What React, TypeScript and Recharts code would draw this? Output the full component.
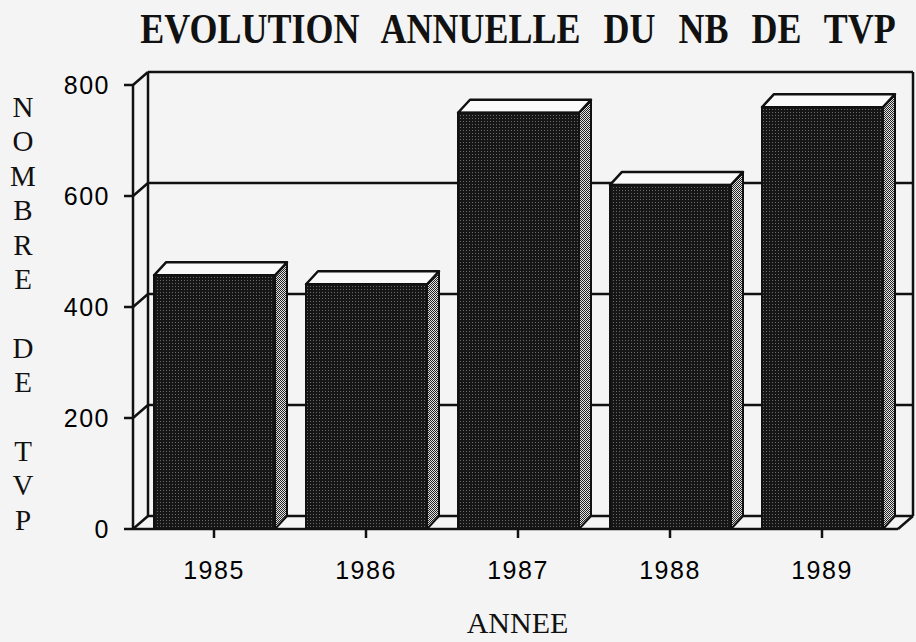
import React from 'react';
import { BarChart, Bar, XAxis, YAxis, CartesianGrid } from 'recharts';

const years = ['1985', '1986', '1987', '1988', '1989'];
const tvpCounts = [457, 441, 750, 620, 760];
const yTicks = [0, 200, 400, 600, 800];
const title = 'EVOLUTION ANNUELLE DU NB DE TVP';
const yLabel = 'NOMBRE DE TVP';
const xLabel = 'ANNEE';

const data = years.map((year, i) => ({ year, tvp: tvpCounts[i] }));

// depth of the 3D effect
const WALL_DX = 15;
const WALL_DY = -13;
const BAR_DX = 12;
const BAR_DY = -13;
const INK = '#111';

const serif = '"Liberation Serif", "Times New Roman", serif';
const sans = '"Liberation Sans", Arial, sans-serif';

const Bar3D = (props: any) => {
  const { x, y, width, height } = props;
  if (width == null || height == null) return null;
  const side = [
    [x + width, y],
    [x + width + BAR_DX, y + BAR_DY],
    [x + width + BAR_DX, y + height + BAR_DY],
    [x + width, y + height],
  ].map(p => p.join(',')).join(' ');
  const top = [
    [x, y],
    [x + BAR_DX, y + BAR_DY],
    [x + width + BAR_DX, y + BAR_DY],
    [x + width, y],
  ].map(p => p.join(',')).join(' ');
  return (
    <g>
      <polygon points={side} fill="url(#sidePat)" stroke={INK} strokeWidth={2} strokeLinejoin="round" />
      <polygon points={top} fill="#fafafa" stroke={INK} strokeWidth={2.5} strokeLinejoin="round" />
      <rect x={x} y={y} width={width} height={height} fill="url(#frontPat)" stroke={INK} strokeWidth={2} />
    </g>
  );
};

// back wall horizontal lines + the diagonal on the left wall
const HLine = (props: any) => {
  const { x1, y1, x2, index } = props;
  const isBottom =
    props.y != null && props.height != null
      ? Math.abs(y1 - (props.y + props.height)) < 1
      : index === 0;
  return (
    <g key={`h-${index}`}>
      <line x1={x1 + WALL_DX} y1={y1 + WALL_DY} x2={x2 + WALL_DX} y2={y1 + WALL_DY} stroke={INK} strokeWidth={2.5} />
      <line x1={x1} y1={y1} x2={x1 + WALL_DX} y2={y1 + WALL_DY} stroke={INK} strokeWidth={2.5} />
      {isBottom && (
        <line x1={x2} y1={y1} x2={x2 + WALL_DX} y2={y1 + WALL_DY} stroke={INK} strokeWidth={2.5} />
      )}
    </g>
  );
};

const VLine = (props: any) => {
  const { x1, y1, y2, index } = props;
  return (
    <line
      key={`v-${index}`}
      x1={x1 + WALL_DX}
      y1={y1 + WALL_DY}
      x2={x1 + WALL_DX}
      y2={y2 + WALL_DY}
      stroke={INK}
      strokeWidth={2.5}
    />
  );
};

const YLetters = (props: any) => {
  const vb = props.viewBox || { x: 0, y: 85 };
  return (
    <text fontFamily={serif} fontSize={29} fill={INK} textAnchor="middle">
      {yLabel.split('').map((ch, i) => (
        <tspan key={i} x={vb.x + 23} y={vb.y + 32 + i * 34.4}>
          {ch === ' ' ? '' : ch}
        </tspan>
      ))}
    </text>
  );
};

const XTitle = (props: any) => {
  const vb = props.viewBox || { x: 133, y: 529, width: 765 };
  return (
    <text
      x={vb.x + vb.width / 2 + 2}
      y={vb.y + 104}
      fontFamily={serif}
      fontSize={30}
      fill={INK}
      textAnchor="middle"
    >
      {xLabel}
    </text>
  );
};

const tickStyle = { fontSize: 25, fontFamily: sans, fill: '#000', letterSpacing: 1.5 };

export default function App() {
  return (
    <div style={{ position: 'absolute', left: 0, top: 0, width: 916, height: 642, background: '#f4f4f4' }}>
      <svg width={916} height={60} style={{ position: 'absolute', left: 0, top: 0 }}>
        <text
          transform="translate(518,43) scale(1,1.15)"
          textAnchor="middle"
          fontFamily={serif}
          fontWeight="bold"
          fontSize={36}
          wordSpacing={14}
          fill={INK}
        >
          {title}
        </text>
      </svg>
      <BarChart
        width={916}
        height={642}
        data={data}
        margin={{ top: 85, right: 18, bottom: 0, left: 0 }}
        barCategoryGap={0}
      >
        <defs>
          <pattern id="frontPat" width={3} height={3} patternUnits="userSpaceOnUse">
            <rect width={3} height={3} fill="#161616" />
            <rect x={1} y={1} width={1} height={1} fill="#6a6a6a" />
          </pattern>
          <pattern id="sidePat" width={2} height={2} patternUnits="userSpaceOnUse">
            <rect width={2} height={2} fill="#e4e4e4" />
            <rect width={1} height={1} fill="#222" />
            <rect x={1} y={1} width={1} height={1} fill="#222" />
          </pattern>
        </defs>
        <CartesianGrid
          horizontal={HLine}
          vertical={VLine}
          verticalCoordinatesGenerator={({ offset }: any) => [offset.left, offset.left + offset.width]}
        />
        <XAxis
          dataKey="year"
          height={113}
          padding={{ left: 5, right: 0 }}
          tickSize={9}
          tickMargin={23}
          axisLine={{ stroke: INK, strokeWidth: 2.5 }}
          tickLine={{ stroke: INK, strokeWidth: 2.5 }}
          tick={tickStyle}
          label={<XTitle />}
        />
        <YAxis
          width={133}
          domain={[0, 800]}
          ticks={yTicks}
          tickSize={9}
          tickMargin={14}
          axisLine={{ stroke: INK, strokeWidth: 2.5 }}
          tickLine={{ stroke: INK, strokeWidth: 2.5 }}
          tick={tickStyle}
          label={<YLetters />}
        />
        <Bar dataKey="tvp" barSize={121} shape={<Bar3D />} isAnimationActive={false} />
      </BarChart>
    </div>
  );
}
